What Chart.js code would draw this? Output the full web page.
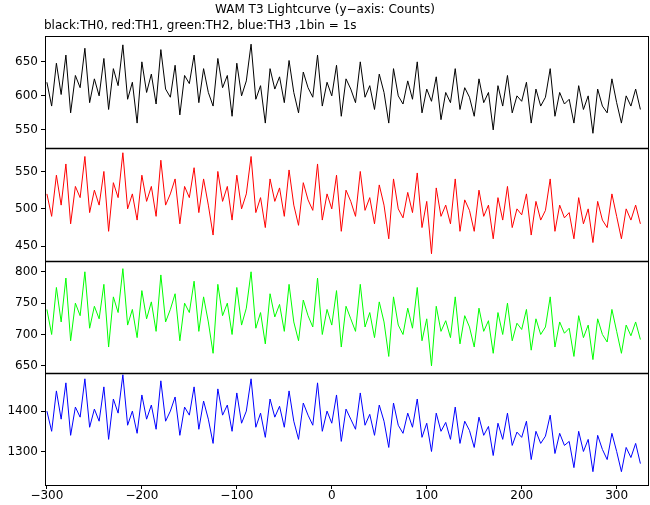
<!DOCTYPE html>
<html>
<head>
<meta charset="utf-8">
<script src="https://cdn.jsdelivr.net/npm/chart.js@4"></script>
<style>
  html, body { margin: 0; padding: 0; background: #fff; }
  #wrap { width: 650px; height: 505px; }
</style>
</head>
<body>
<div id="wrap"><canvas id="lc" width="650" height="505"></canvas></div>
<script>
// time bins (s): first bin and bin spacing of the plotted points
const timeStart = -300;
const binStep = 5;

const th0 = [620,585,648,602,660,575,630,612,670,590,625,600,655,580,640,615,675,595,620,560,650,605,632,588,668,610,598,645,572,630,
  618,660,590,640,605,585,655,612,630,570,648,600,622,676,595,615,560,640,610,628,
  590,652,605,575,635,612,598,660,585,620,600,645,570,625,610,590,650,598,615,580,
  632,605,560,640,600,588,622,595,650,575,610,592,628,565,605,590,640,580,612,598,
  570,625,590,605,550,615,585,630,575,600,592,620,560,610,585,598,640,570,605,588,
  595,560,615,580,600,545,610,585,575,625,590,560,600,585,610,580];
const th1 = [520,490,545,505,560,480,530,515,570,495,525,505,550,470,535,515,575,500,520,485,
  545,510,530,490,565,505,520,540,480,530,515,555,495,540,505,465,550,510,530,485,
  545,500,520,570,495,515,475,540,510,528,490,552,505,478,535,512,498,560,485,520,
  500,545,470,525,510,490,550,498,515,480,532,505,460,540,500,488,522,495,548,475,
  510,440,528,490,505,480,540,470,512,498,470,525,490,505,460,515,485,530,475,500,
  492,520,465,510,485,498,540,470,505,488,495,460,515,480,500,455,510,485,475,520,
  490,460,500,485,505,480];
const th2 = [740,700,775,720,790,690,750,730,800,710,745,725,780,680,760,735,805,715,740,695,
  770,725,752,705,795,720,740,765,690,750,735,785,705,760,720,670,780,730,750,700,
  775,715,742,800,710,735,685,765,728,748,705,780,720,690,755,730,712,790,700,740,
  715,770,680,745,725,705,780,712,735,695,752,720,665,760,715,700,742,710,775,690,
  725,650,745,705,722,695,760,685,730,712,680,742,705,722,670,735,700,750,690,718,
  708,740,675,725,700,712,760,680,720,702,710,665,730,695,715,660,725,700,688,740,
  705,670,715,698,720,692];
const th3 = [1400,1350,1450,1380,1470,1340,1410,1385,1480,1360,1405,1375,1460,1330,1430,1395,1490,1365,1400,1345,
  1440,1380,1415,1355,1475,1375,1400,1435,1340,1410,1390,1460,1355,1425,1380,1320,1455,1390,1415,1350,
  1445,1370,1400,1480,1360,1395,1335,1430,1385,1412,1360,1450,1375,1330,1420,1390,1365,1470,1350,1400,
  1370,1440,1325,1405,1380,1355,1445,1365,1392,1340,1415,1375,1310,1420,1365,1345,1395,1360,1430,1335,
  1370,1300,1395,1350,1372,1330,1410,1320,1375,1352,1310,1385,1340,1362,1290,1370,1330,1395,1315,1348,
  1335,1375,1280,1350,1320,1338,1390,1295,1345,1315,1325,1260,1350,1300,1330,1250,1340,1305,1280,1345,
  1300,1250,1310,1285,1320,1270];

const titleText = 'WAM T3 Lightcurve (y\u2212axis: Counts)';
const subText = 'black:TH0, red:TH1, green:TH2, blue:TH3 ,1bin = 1s';

const FONT = '"DejaVu Sans", sans-serif';

function toPoints(vals) {
    return vals.map((v, i) => ({ x: timeStart + i * binStep, y: v }));
}

// ticks only at round multiples of the step
function roundTicks(step) {
    return (axis) => {
        const out = [];
        for (let v = Math.ceil(axis.min / step) * step; v <= axis.max; v += step) out.push({ value: v });
        axis.ticks = out;
    };
}

function yAxis(min, max, step) {
    return {
        type: 'linear', position: 'left', stack: 'lc', stackWeight: 1,
        min: min, max: max,
        grid: { display: true, drawOnChartArea: false, tickLength: 4, color: '#000' },
        border: { display: true, color: '#000', width: 1 },
        ticks: { color: '#000', font: { family: FONT, size: 12 }, padding: 3, callback: (v) => String(v) },
        afterBuildTicks: roundTicks(step),
        afterFit: (s) => { s.width = 45; }
    };
}

// frame around the panels, titles
const framePlugin = {
    id: 'frame',
    afterDraw(chart) {
        const ctx = chart.ctx;
        const a = chart.chartArea;
        ctx.save();
        ctx.strokeStyle = '#000';
        ctx.lineWidth = 1;
        ctx.strokeRect(a.left + 0.5, a.top + 0.5, a.right - a.left, a.bottom - a.top);
        ['y1', 'y2', 'y3'].forEach(id => {
            const yy = Math.round(chart.scales[id].top) + 0.5;
            ctx.lineWidth = 1.5;
            ctx.beginPath();
            ctx.moveTo(a.left, yy);
            ctx.lineTo(a.right, yy);
            ctx.stroke();
        });
        ctx.fillStyle = '#000';
        ctx.font = '12px ' + FONT;
        ctx.textBaseline = 'middle';
        ctx.textAlign = 'center';
        ctx.fillText(titleText, 325, 10);
        ctx.textAlign = 'left';
        ctx.fillText(subText, 44, 26);
        ctx.restore();
    }
};

new Chart(document.getElementById('lc'), {
    type: 'line',
    data: {
        datasets: [
            { label: 'TH0', data: toPoints(th0), borderColor: '#000000', yAxisID: 'y0' },
            { label: 'TH1', data: toPoints(th1), borderColor: '#ff0000', yAxisID: 'y1' },
            { label: 'TH2', data: toPoints(th2), borderColor: '#00ff00', yAxisID: 'y2' },
            { label: 'TH3', data: toPoints(th3), borderColor: '#0000ff', yAxisID: 'y3' }
        ]
    },
    options: {
        responsive: false,
        animation: false,
        layout: { padding: { top: 36, right: 2, left: 0, bottom: 0 } },
        elements: { line: { borderWidth: 1, tension: 0 }, point: { radius: 0 } },
        plugins: { legend: { display: false }, tooltip: { enabled: false } },
        scales: {
            x: {
                type: 'linear', min: -302, max: 333,
                grid: { display: true, drawOnChartArea: false, tickLength: 4, color: '#000' },
                border: { display: true, color: '#000' },
                ticks: { color: '#000', font: { family: FONT, size: 12 }, padding: 0, maxRotation: 0, callback: (v) => String(v).replace('-', '\u2212') },
                afterBuildTicks: roundTicks(100),
                afterFit: (s) => { s.height = 20; }
            },
            // stacked axes are laid out bottom-up, so the bottom panel comes first
            y3: yAxis(1217, 1495, 100),
            y2: yAxis(639, 818, 50),
            y1: yAxis(431, 581, 50),
            y0: yAxis(523, 688, 50)
        }
    },
    plugins: [framePlugin]
});
</script>
</body>
</html>
